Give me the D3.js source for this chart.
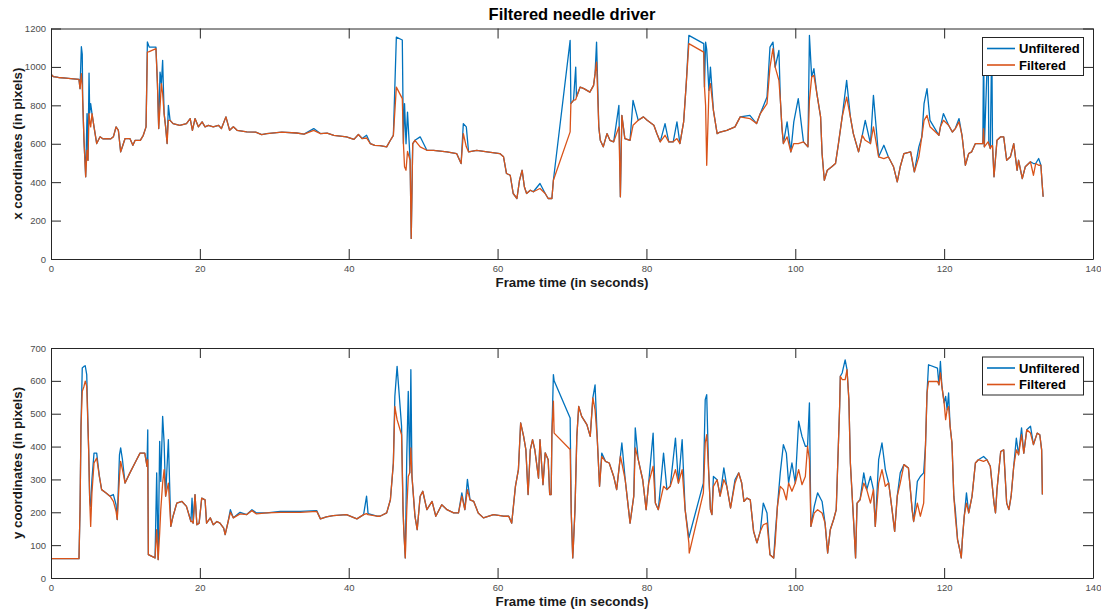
<!DOCTYPE html>
<html>
<head>
<meta charset="utf-8">
<script src="https://cdn.jsdelivr.net/npm/d3@7"></script>
<style>
  body { margin: 0; background: #fff; }
  svg { font-family: "Liberation Sans", Arial, Helvetica, sans-serif; }
  .tick text { fill: #4d4d4d; font-size: 9.5px; }
  .tick line, .domain { stroke: #262626; }
</style>
</head>
<body>
<script>
// time stamps (s) for the x-coordinate trace
var topTime = [
  0.0, 0.3, 1.0, 2.0, 3.0, 3.76, 3.9, 4.08, 4.2, 4.26,
  4.43, 4.66, 4.84, 4.97, 5.11, 5.2, 5.33, 5.51, 5.78, 6.14,
  6.59, 7.0, 7.48, 8.0, 8.38, 8.74, 9.05, 9.36, 9.59, 9.95,
  10.6, 11.0, 11.3, 12.0, 12.4, 12.77, 12.95, 13.2, 14.1, 14.3,
  14.47, 14.65, 14.83, 15.0, 15.2, 15.4, 15.6, 15.77, 16.0, 16.4,
  17.3, 18.2, 18.7, 19.0, 19.35, 19.8, 20.3, 20.7, 21.15, 21.8,
  22.5, 22.9, 23.5, 24.0, 24.5, 25.0, 26.3, 27.5, 28.3, 29.0,
  31.0, 33.0, 34.0, 35.3, 36.2, 37.1, 38.0, 39.7, 40.7, 41.3,
  41.8, 42.4, 42.9, 43.5, 44.2, 45.1, 45.6, 46.0, 46.4, 47.2,
  47.35, 47.5, 47.7, 47.9, 48.25, 48.4, 48.6, 48.9, 49.6, 50.5,
  51.4, 53.2, 54.5, 55.1, 55.4, 55.8, 56.1, 57.2, 58.6, 60.3,
  60.8, 61.2, 61.7, 62.1, 62.6, 62.95, 63.3, 63.6, 63.9, 64.4,
  64.8, 65.7, 66.4, 66.8, 67.3, 67.5, 69.75, 69.85, 70.2, 70.5,
  70.6, 71.1, 71.6, 72.4, 72.9, 73.1, 73.3, 73.6, 73.8, 74.2,
  74.7, 75.1, 75.6, 76.3, 76.5, 76.7, 77.1, 77.8, 78.2, 78.9,
  79.6, 80.1, 81.0, 81.4, 81.85, 82.5, 83.0, 83.6, 84.1, 84.5,
  85.0, 85.35, 85.7, 87.7, 87.8, 87.95, 88.1, 88.4, 88.6, 89.0,
  89.5, 89.9, 90.8, 91.9, 92.6, 93.9, 94.8, 95.3, 96.2, 96.6,
  97.0, 97.3, 97.8, 98.0, 98.2, 98.4, 98.9, 99.4, 99.8, 100.4,
  101.1, 101.7, 101.9, 102.2, 102.5, 102.9, 103.4, 103.6, 103.9, 104.3,
  104.9, 105.4, 105.8, 106.3, 106.9, 107.4, 107.8, 108.5, 109.0, 109.4,
  110.1, 110.5, 111.2, 111.9, 112.5, 113.2, 113.7, 114.1, 114.6, 115.5,
  116.0, 116.6, 117.0, 117.3, 117.7, 118.1, 119.3, 119.5, 119.9, 120.6,
  121.1, 121.5, 122.0, 122.4, 122.85, 123.3, 123.7, 124.2, 124.6, 125.2,
  125.3, 125.4, 125.9, 126.0, 126.2, 126.4, 126.5, 126.7, 127.1, 127.6,
  128.0, 128.4, 128.9, 129.35, 129.8, 130.0, 130.5, 130.9, 131.6, 132.0,
  132.3, 132.7, 133.0, 133.15, 133.3
];
var xUnfiltered = [
  962, 950, 945, 942, 938, 935, 887, 1105, 1065, 830,
  618, 428, 757, 514, 968, 760, 809, 757, 688, 601,
  636, 625, 627, 625, 636, 688, 670, 558, 584, 627,
  627, 592, 618, 618, 644, 688, 1130, 1103, 1103, 913,
  679, 973, 913, 1034, 757, 688, 601, 800, 722, 705,
  696, 705, 731, 670, 731, 688, 714, 688, 696, 688,
  696, 679, 740, 670, 688, 670, 662, 660, 648, 653,
  660, 656, 650, 679, 653, 655, 644, 636, 623, 648,
  627, 644, 601, 592, 590, 584, 618, 644, 1155, 1140,
  601, 809, 600, 765, 514, 107, 601, 618, 636, 566,
  566, 558, 549, 497, 705, 688, 558, 566, 558, 549,
  532, 445, 436, 341, 315, 410, 462, 376, 341, 358,
  350, 393, 341, 315, 315, 410, 1138, 809, 826, 999,
  843, 895, 887, 869, 904, 965, 1129, 688, 618, 584,
  653, 618, 610, 800, 324, 748, 627, 618, 826, 722,
  740, 722, 696, 653, 610, 705, 610, 610, 714, 601,
  714, 913, 1164, 1121, 895, 1129, 1090, 878, 999, 774,
  653, 661, 670, 688, 740, 748, 705, 757, 843, 1103,
  1129, 999, 1086, 826, 688, 601, 714, 558, 714, 835,
  610, 584, 1164, 947, 991, 861, 740, 549, 410, 462,
  480, 497, 601, 740, 930, 740, 653, 558, 644, 722,
  601, 852, 532, 592, 532, 480, 402, 480, 549, 558,
  454, 584, 636, 809, 887, 722, 644, 688, 757, 696,
  661, 679, 731, 644, 488, 549, 558, 601, 601, 601,
  1150, 584, 1150, 601, 575, 1150, 590, 428, 618, 636,
  636, 514, 532, 601, 462, 514, 419, 480, 506, 497,
  497, 523, 488, 402, 324
];
var xFiltered = [
  962, 950, 945, 942, 938, 935, 887, 965, 900, 826,
  618, 428, 566, 514, 757, 720, 688, 757, 688, 601,
  636, 625, 627, 625, 636, 688, 670, 558, 584, 627,
  627, 592, 618, 618, 644, 688, 1077, 1080, 1095, 913,
  679, 792, 913, 861, 757, 688, 601, 722, 722, 705,
  696, 705, 731, 670, 731, 688, 714, 688, 696, 688,
  696, 679, 740, 670, 688, 670, 662, 660, 648, 653,
  660, 656, 650, 670, 653, 655, 644, 636, 623, 648,
  627, 630, 601, 592, 590, 584, 618, 644, 895, 835,
  601, 480, 462, 560, 514, 107, 601, 618, 584, 566,
  566, 558, 549, 497, 653, 584, 558, 566, 558, 549,
  532, 445, 436, 341, 315, 410, 462, 376, 341, 358,
  350, 367, 341, 315, 315, 410, 662, 809, 826, 830,
  843, 895, 887, 869, 904, 965, 1025, 688, 618, 584,
  653, 618, 610, 688, 324, 748, 627, 618, 696, 722,
  740, 722, 696, 653, 610, 644, 610, 610, 627, 601,
  714, 913, 1121, 1077, 895, 800, 488, 878, 913, 774,
  653, 661, 670, 688, 740, 731, 705, 757, 809, 999,
  1095, 999, 930, 826, 688, 601, 636, 558, 601, 601,
  610, 584, 826, 947, 956, 861, 740, 549, 410, 462,
  480, 497, 601, 740, 843, 740, 653, 558, 644, 618,
  601, 688, 532, 523, 532, 480, 402, 480, 549, 558,
  454, 532, 636, 722, 748, 688, 644, 688, 722, 696,
  661, 679, 714, 644, 488, 549, 558, 601, 601, 601,
  679, 584, 610, 601, 575, 590, 590, 428, 618, 636,
  636, 514, 532, 601, 462, 514, 419, 480, 506, 436,
  497, 488, 488, 402, 324
];

// time stamps (s) for the y-coordinate trace
var bottomTime = [
  0.0, 3.76, 3.9, 4.03, 4.2, 4.43, 4.6, 4.8, 4.97, 5.06,
  5.2, 5.33, 5.5, 5.78, 6.14, 6.5, 6.8, 7.4, 7.93, 8.38,
  8.74, 8.9, 9.2, 9.36, 9.6, 9.95, 10.6, 11.5, 11.96, 12.6,
  12.9, 13.0, 13.08, 13.98, 14.2, 14.4, 14.6, 14.75, 15.0, 15.2,
  15.4, 15.77, 16.1, 16.4, 16.9, 17.6, 18.2, 18.8, 18.95, 19.1,
  19.35, 19.6, 19.9, 20.25, 20.7, 20.9, 21.4, 21.8, 22.3, 22.7,
  23.2, 23.4, 23.8, 24.1, 24.5, 25.4, 26.3, 27.0, 27.6, 29.0,
  30.8, 33.5, 35.7, 36.2, 37.0, 37.9, 39.7, 41.1, 42.0, 42.4,
  42.6, 43.8, 44.2, 45.1, 45.6, 46.0, 46.2, 46.5, 47.1, 47.3,
  47.4, 47.6, 47.8, 48.0, 48.2, 48.35, 48.5, 48.9, 49.2, 49.6,
  49.95, 50.5, 51.2, 51.7, 52.5, 53.2, 54.1, 54.75, 55.2, 55.6,
  55.95, 56.3, 56.8, 57.4, 58.1, 59.45, 60.8, 61.5, 61.9, 62.4,
  62.8, 63.1, 63.5, 63.8, 64.1, 64.4, 64.7, 65.0, 65.5, 65.7,
  66.1, 66.4, 66.8, 67.0, 67.2, 67.3, 67.5, 67.6, 69.75, 69.9,
  70.1, 70.2, 70.4, 70.65, 70.9, 71.3, 72.0, 72.45, 72.8, 73.1,
  73.4, 73.7, 74.0, 74.5, 75.0, 75.6, 76.0, 76.5, 76.7, 77.15,
  77.6, 77.8, 78.3, 78.5, 78.9, 79.5, 79.96, 80.3, 80.9, 81.2,
  81.6, 82.3, 82.75, 83.2, 83.9, 84.3, 84.8, 85.2, 85.7, 85.75,
  87.65, 87.9, 88.1, 88.35, 88.6, 88.8, 89.0, 89.5, 89.9, 90.4,
  90.8, 91.3, 91.9, 92.4, 92.8, 93.1, 93.5, 93.95, 94.4, 94.85,
  95.3, 95.7, 96.2, 96.6, 97.1, 97.3, 97.6, 97.98, 98.4, 98.8,
  99.1, 99.55, 100.0, 100.45, 100.9, 101.35, 101.65, 101.9, 102.1, 102.55,
  103.0, 103.6, 104.0, 104.35, 104.7, 105.15, 105.5, 105.96, 106.05, 106.3,
  106.7, 106.95, 107.2, 107.4, 107.85, 108.1, 108.3, 108.7, 109.2, 109.6,
  110.1, 110.5, 110.75, 111.2, 111.65, 112.1, 112.55, 113.0, 113.35, 113.7,
  114.1, 114.6, 115.2, 115.7, 115.9, 116.4, 116.8, 117.25, 117.5, 117.7,
  117.9, 119.1, 119.3, 119.5, 119.7, 120.0, 120.2, 120.4, 120.6, 120.8,
  121.05, 121.3, 121.5, 121.8, 122.1, 122.3, 122.45, 122.7, 123.0, 123.3,
  123.75, 124.2, 124.6, 125.3, 125.75, 126.2, 126.7, 126.9, 127.1, 127.6,
  128.0, 128.4, 128.7, 129.0, 129.35, 129.7, 130.0, 130.4, 130.7, 131.1,
  131.6, 132.0, 132.5, 132.85, 133.1, 133.2
];
var yUnfiltered = [
  59, 59, 208, 462, 639, 644, 646, 619, 462, 391,
  238, 218, 300, 380, 380, 309, 269, 259, 249, 254,
  223, 178, 375, 396, 360, 289, 320, 360, 380, 380,
  340, 451, 71, 61, 320, 56, 416, 294, 492, 411,
  249, 421, 157, 188, 228, 233, 218, 172, 243, 167,
  254, 162, 167, 243, 238, 167, 183, 162, 172, 167,
  152, 132, 172, 208, 183, 200, 193, 208, 198, 198,
  203, 203, 205, 180, 186, 190, 193, 180, 193, 249,
  196, 188, 188, 198, 238, 350, 553, 644, 462, 208,
  147, 61, 370, 568, 320, 634, 309, 188, 147, 249,
  264, 208, 233, 188, 223, 208, 198, 198, 259, 208,
  300, 238, 233, 198, 183, 193, 188, 188, 167, 279,
  330, 472, 431, 391, 254, 391, 421, 391, 304, 421,
  284, 381, 360, 254, 254, 441, 619, 600, 487, 198,
  61, 107, 208, 431, 522, 492, 467, 431, 548, 588,
  421, 279, 380, 355, 350, 309, 269, 370, 411, 299,
  208, 167, 249, 457, 360, 299, 208, 289, 441, 228,
  208, 380, 269, 279, 426, 289, 421, 208, 122, 127,
  289, 543, 558, 330, 208, 193, 309, 299, 249, 335,
  279, 213, 299, 320, 289, 233, 243, 238, 142, 107,
  142, 228, 198, 71, 61, 132, 218, 320, 406, 380,
  289, 350, 289, 477, 431, 401, 401, 533, 157, 218,
  259, 233, 167, 76, 147, 178, 208, 522, 614, 624,
  664, 634, 543, 350, 167, 61, 228, 238, 320, 269,
  309, 269, 157, 360, 411, 330, 289, 208, 142, 249,
  320, 345, 335, 208, 172, 294, 309, 320, 406, 563,
  649, 639, 588, 659, 583, 533, 553, 512, 563, 462,
  411, 249, 208, 117, 86, 61, 117, 188, 259, 198,
  249, 350, 360, 370, 360, 340, 228, 198, 269, 385,
  390, 228, 208, 249, 340, 426, 375, 457, 380, 451,
  462, 406, 441, 436, 390, 254
];
var yFiltered = [
  59, 59, 208, 462, 568, 583, 599, 583, 457, 391,
  238, 157, 259, 350, 365, 309, 269, 259, 249, 233,
  203, 178, 309, 355, 330, 289, 320, 360, 380, 380,
  340, 360, 71, 61, 147, 56, 137, 208, 289, 330,
  249, 289, 157, 188, 228, 233, 218, 172, 172, 167,
  254, 162, 167, 243, 238, 167, 183, 162, 172, 167,
  152, 132, 172, 200, 183, 195, 193, 205, 195, 198,
  200, 200, 203, 180, 186, 190, 193, 180, 193, 196,
  193, 188, 188, 198, 238, 350, 522, 482, 436, 208,
  147, 61, 208, 309, 320, 396, 309, 188, 147, 249,
  264, 208, 233, 188, 223, 208, 198, 198, 249, 208,
  269, 238, 233, 198, 183, 193, 188, 188, 167, 279,
  330, 472, 431, 391, 254, 391, 421, 391, 304, 421,
  284, 381, 360, 254, 254, 441, 538, 441, 391, 198,
  61, 107, 208, 431, 522, 492, 467, 431, 548, 512,
  421, 279, 370, 355, 350, 309, 269, 370, 350, 299,
  208, 167, 249, 396, 360, 299, 208, 289, 340, 228,
  208, 279, 269, 279, 330, 289, 330, 208, 107, 76,
  259, 411, 436, 330, 208, 193, 279, 299, 249, 299,
  279, 213, 289, 320, 289, 233, 243, 238, 142, 107,
  142, 162, 167, 71, 61, 107, 218, 279, 269, 238,
  289, 264, 289, 330, 284, 309, 401, 360, 157, 198,
  208, 198, 167, 76, 147, 178, 208, 522, 614, 604,
  604, 634, 543, 350, 167, 61, 228, 238, 289, 269,
  228, 269, 157, 289, 330, 279, 289, 208, 142, 249,
  289, 345, 335, 208, 172, 228, 188, 228, 406, 563,
  598, 598, 588, 624, 583, 533, 482, 512, 522, 462,
  411, 249, 188, 117, 86, 61, 117, 188, 228, 198,
  249, 350, 360, 355, 360, 340, 228, 198, 269, 385,
  390, 228, 208, 249, 340, 390, 375, 436, 380, 451,
  441, 406, 441, 436, 390, 254
];

var timeTicks = [0, 20, 40, 60, 80, 100, 120, 140];
var xCoordTicks = [0, 200, 400, 600, 800, 1000, 1200];
var yCoordTicks = [0, 100, 200, 300, 400, 500, 600, 700];
var seriesNames = ["Unfiltered", "Filtered"];
var seriesColors = ["#0072BD", "#D95319"];

var svgWidth = 1101;
var svgHeight = 612;

var svg = d3.select("body")
  .append("svg")
    .attr("width", svgWidth)
    .attr("height", svgHeight);

// title
svg.append("text")
  .attr("x", 572)
  .attr("y", 20)
  .attr("text-anchor", "middle")
  .style("font-weight", "bold")
  .style("font-size", "16.5px")
  .style("fill", "#000")
  .text("Filtered needle driver");

function drawPanel(id, box, yMax, yTicks, time, raw, filtered, yLabel) {

  var xScale = d3.scaleLinear().domain([0, 140]).range([box.left, box.right]);
  var yScale = d3.scaleLinear().domain([0, yMax]).range([box.bottom, box.top]);

  svg.append("clipPath")
      .attr("id", id)
    .append("rect")
      .attr("x", box.left)
      .attr("y", box.top)
      .attr("width", box.right - box.left)
      .attr("height", box.bottom - box.top);

  var line = d3.line()
    .x(function(d) { return xScale(d[0]); })
    .y(function(d) { return yScale(d[1]); });

  var plot = svg.append("g").attr("clip-path", "url(#" + id + ")");

  [raw, filtered].forEach(function(values, i) {
    plot.append("path")
      .datum(time.map(function(t, j) { return [t, values[j]]; }))
      .attr("fill", "none")
      .attr("stroke", seriesColors[i])
      .attr("stroke-width", 1.3)
      .attr("stroke-linejoin", "round")
      .attr("d", line);
  });

  // axes, ticks pointing inward like matlab
  svg.append("g")
    .attr("transform", "translate(0," + box.bottom + ")")
    .call(d3.axisBottom(xScale).tickValues(timeTicks).tickSize(-10).tickSizeOuter(0)
      .tickPadding(6).tickFormat(d3.format("d")));

  svg.append("g")
    .attr("transform", "translate(0," + box.top + ")")
    .call(d3.axisTop(xScale).tickValues(timeTicks).tickSize(-10).tickSizeOuter(0).tickFormat(""));

  svg.append("g")
    .attr("transform", "translate(" + box.left + ",0)")
    .call(d3.axisLeft(yScale).tickValues(yTicks).tickSize(-10).tickSizeOuter(0)
      .tickPadding(5).tickFormat(d3.format("d")));

  svg.append("g")
    .attr("transform", "translate(" + box.right + ",0)")
    .call(d3.axisRight(yScale).tickValues(yTicks).tickSize(-10).tickSizeOuter(0).tickFormat(""));

  // axis labels
  svg.append("text")
    .attr("x", (box.left + box.right) / 2)
    .attr("y", box.bottom + 28)
    .attr("text-anchor", "middle")
    .style("font-weight", "bold")
    .style("font-size", "13.3px")
    .style("fill", "#1a1a1a")
    .text("Frame time (in seconds)");

  svg.append("text")
    .attr("transform", "translate(22," + (box.top + box.bottom) / 2 + ") rotate(-90)")
    .attr("text-anchor", "middle")
    .style("font-weight", "bold")
    .style("font-size", "13.3px")
    .style("fill", "#1a1a1a")
    .text(yLabel);

  // legend
  var legend = svg.append("g").attr("transform", "translate(982," + (box.top + 8.5) + ")");
  legend.append("rect")
    .attr("x", 0.5)
    .attr("y", 0.5)
    .attr("width", 101)
    .attr("height", 38)
    .attr("fill", "#fff")
    .attr("stroke", "#262626");

  seriesNames.forEach(function(name, i) {
    var yy = 11.5 + i * 16.5;
    legend.append("line")
      .attr("x1", 5)
      .attr("x2", 33)
      .attr("y1", yy)
      .attr("y2", yy)
      .attr("stroke", seriesColors[i])
      .attr("stroke-width", 1.6);
    legend.append("text")
      .attr("x", 37)
      .attr("y", yy)
      .attr("dy", "0.36em")
      .style("font-weight", "bold")
      .style("font-size", "13px")
      .style("fill", "#000")
      .text(name);
  });
}

drawPanel("clipTop", {left: 51, right: 1093, top: 28.5, bottom: 259}, 1200, xCoordTicks,
  topTime, xUnfiltered, xFiltered, "x coordinates (in pixels)");

drawPanel("clipBottom", {left: 51, right: 1093, top: 348, bottom: 578}, 700, yCoordTicks,
  bottomTime, yUnfiltered, yFiltered, "y coordinates (in pixels)");
</script>
</body>
</html>
